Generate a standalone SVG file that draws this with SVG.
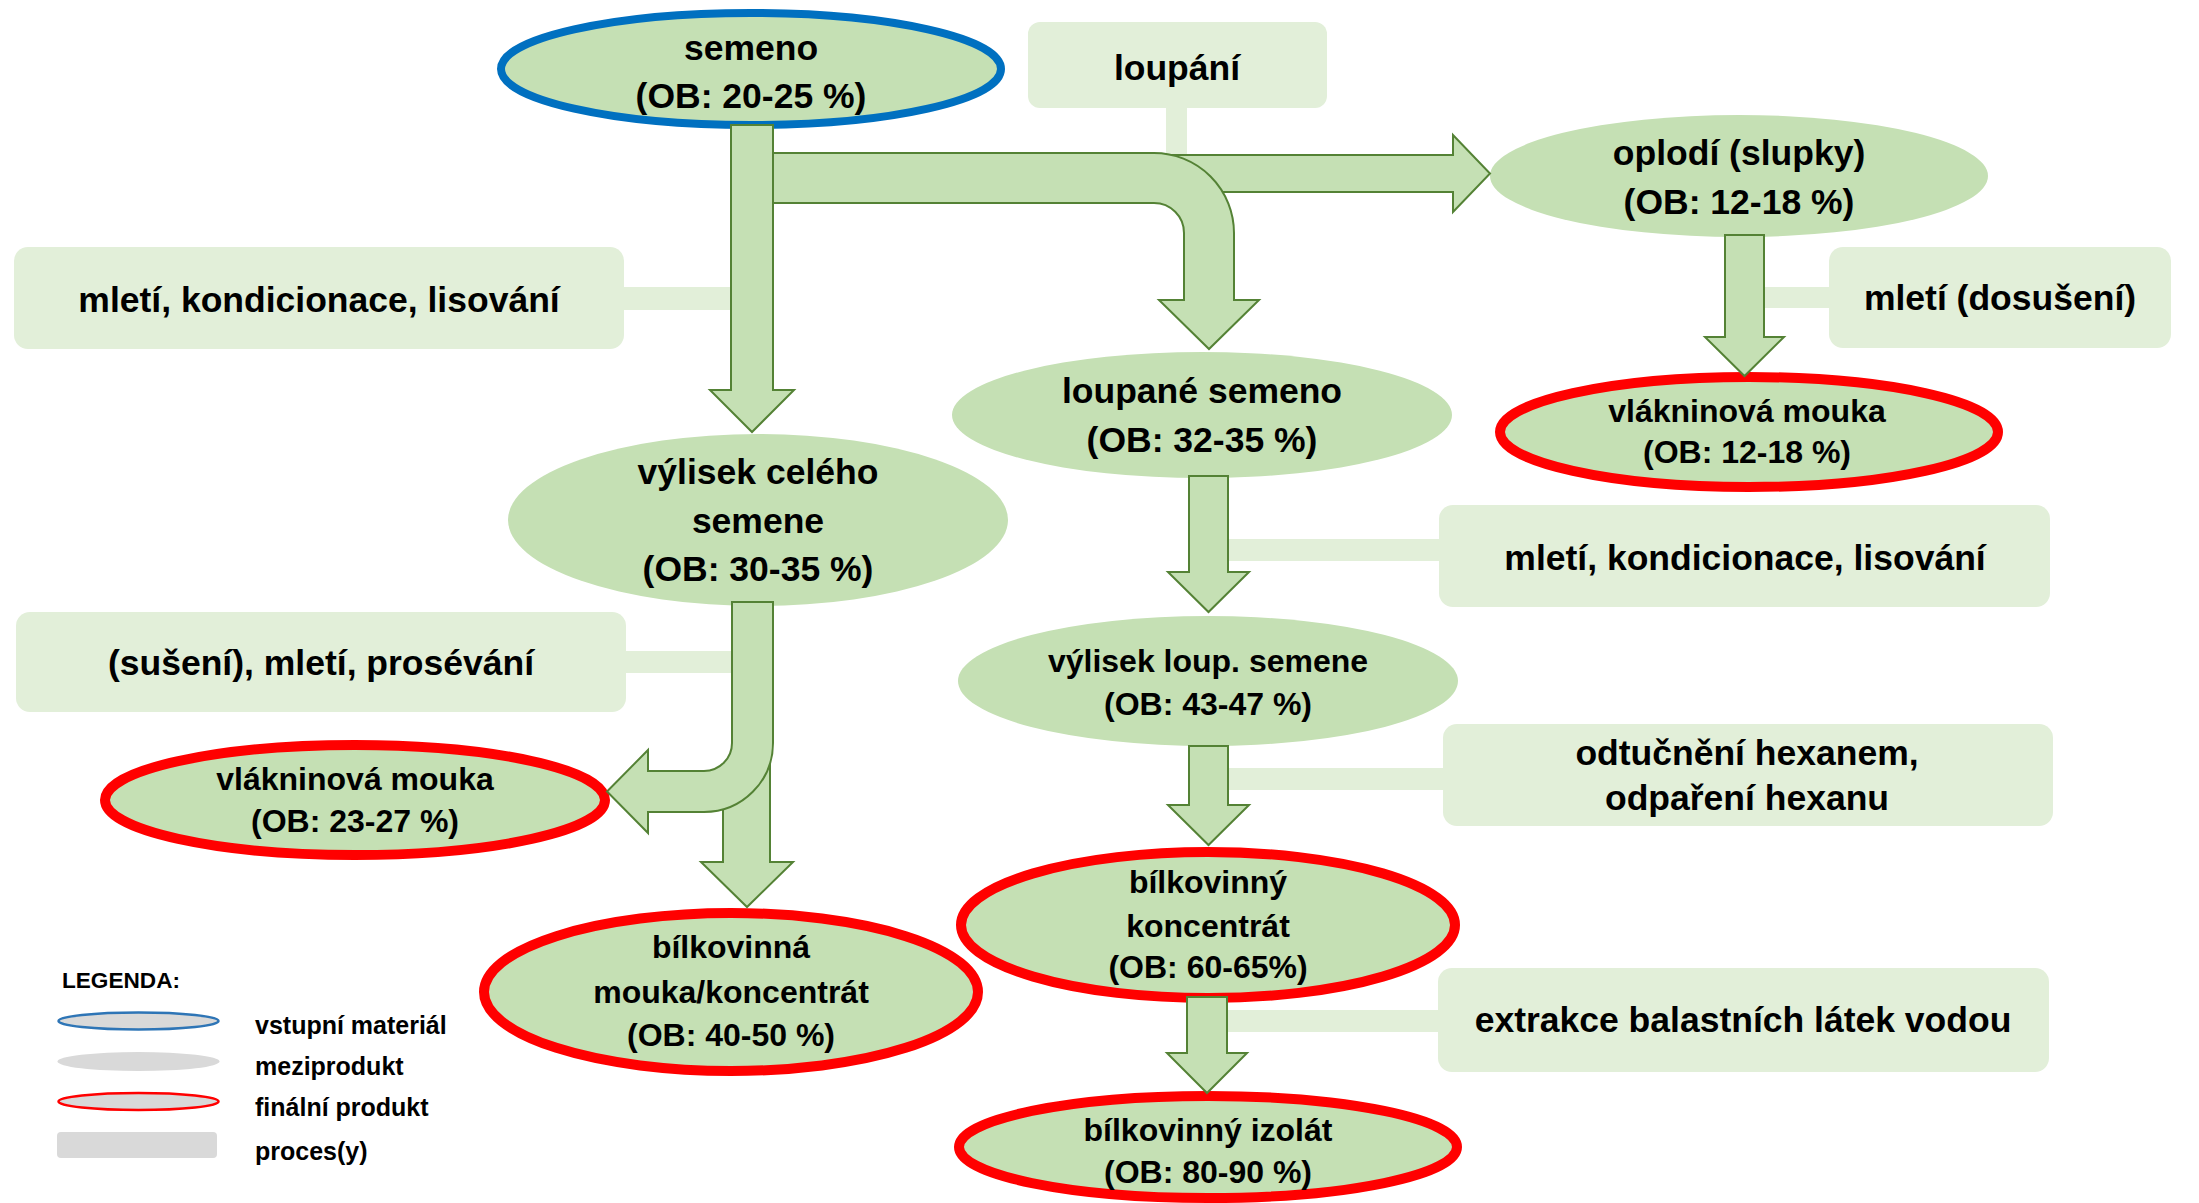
<svg xmlns="http://www.w3.org/2000/svg" width="2199" height="1203" viewBox="0 0 2199 1203">
<style>
.node ellipse { fill:#C5E0B4; }
.in { stroke:#0070C0; stroke-width:8; }
.fin { stroke:#FF0000; stroke-width:10; }
.proc rect, .bar { fill:#E2EFD9; }
.arrow { fill:#C5E0B4; stroke:#548235; stroke-width:2; stroke-linejoin:miter; }
text { font-family:"Liberation Sans", Arial, sans-serif; font-weight:bold; fill:#000; text-anchor:middle; }
.t35 { font-size:35.5px; }
.t32 { font-size:32px; }
.leg { font-size:25px; text-anchor:start; }
</style>
<rect width="2199" height="1203" fill="#FFFFFF"/>

<g id="process-bars">
  <rect class="bar" x="1166" y="106" width="21" height="54"/>
  <rect class="bar" x="622" y="287" width="112" height="23"/>
  <rect class="bar" x="624" y="651" width="110" height="22"/>
  <rect class="bar" x="1224" y="539" width="217" height="22"/>
  <rect class="bar" x="1224" y="768" width="221" height="22"/>
  <rect class="bar" x="1223" y="1010" width="217" height="22"/>
  <rect class="bar" x="1760" y="287" width="71" height="21"/>
</g>

<g id="p-loupani" class="proc">
  <rect x="1028" y="22" width="299" height="86" rx="12"/>
  <text class="t35" x="1177" y="80">loupání</text>
</g>
<g id="p-mleti-left" class="proc">
  <rect x="14" y="247" width="610" height="102" rx="14"/>
  <text class="t35" x="319" y="312">mletí, kondicionace, lisování</text>
</g>
<g id="p-suseni" class="proc">
  <rect x="16" y="612" width="610" height="100" rx="14"/>
  <text class="t35" x="321" y="675">(sušení), mletí, prosévání</text>
</g>
<g id="p-dosuseni" class="proc">
  <rect x="1829" y="247" width="342" height="101" rx="14"/>
  <text class="t35" x="2000" y="310">mletí (dosušení)</text>
</g>
<g id="p-mleti-right" class="proc">
  <rect x="1439" y="505" width="611" height="102" rx="14"/>
  <text class="t35" x="1745" y="570">mletí, kondicionace, lisování</text>
</g>
<g id="p-odtucneni" class="proc">
  <rect x="1443" y="724" width="610" height="102" rx="14"/>
  <text class="t35" x="1747" y="765">odtučnění hexanem,</text>
  <text class="t35" x="1747" y="810">odpaření hexanu</text>
</g>
<g id="p-extrakce" class="proc">
  <rect x="1438" y="968" width="611" height="104" rx="14"/>
  <text class="t35" x="1743" y="1032">extrakce balastních látek vodou</text>
</g>

<g id="n-semeno" class="node">
  <ellipse class="in" cx="751" cy="69" rx="250" ry="56"/>
  <text class="t35" x="751" y="60">semeno</text>
  <text class="t35" x="751" y="108">(OB: 20-25 %)</text>
</g>
<g id="n-oplodi" class="node">
  <ellipse cx="1739" cy="176" rx="249" ry="61"/>
  <text class="t35" x="1739" y="165">oplodí (slupky)</text>
  <text class="t35" x="1739" y="214">(OB: 12-18 %)</text>
</g>
<g id="n-vlaknina-right" class="node">
  <ellipse class="fin" cx="1749" cy="432" rx="249" ry="55"/>
  <text class="t32" x="1747" y="422">vlákninová mouka</text>
  <text class="t32" x="1747" y="463">(OB: 12-18 %)</text>
</g>
<g id="n-loupane" class="node">
  <ellipse cx="1202" cy="415" rx="250" ry="63"/>
  <text class="t35" x="1202" y="403">loupané semeno</text>
  <text class="t35" x="1202" y="452">(OB: 32-35 %)</text>
</g>
<g id="n-vylisek-cele" class="node">
  <ellipse cx="758" cy="520" rx="250" ry="86"/>
  <text class="t35" x="758" y="484">výlisek celého</text>
  <text class="t35" x="758" y="533">semene</text>
  <text class="t35" x="758" y="581">(OB: 30-35 %)</text>
</g>
<g id="n-vylisek-loup" class="node">
  <ellipse cx="1208" cy="681" rx="250" ry="65"/>
  <text class="t32" x="1208" y="672">výlisek loup. semene</text>
  <text class="t32" x="1208" y="715">(OB: 43-47 %)</text>
</g>
<g id="n-vlaknina-left" class="node">
  <ellipse class="fin" cx="355" cy="800" rx="250" ry="55"/>
  <text class="t32" x="355" y="790">vlákninová mouka</text>
  <text class="t32" x="355" y="832">(OB: 23-27 %)</text>
</g>
<g id="n-bilkovinna-mouka" class="node">
  <ellipse class="fin" cx="731" cy="992" rx="247" ry="79"/>
  <text class="t32" x="731" y="958">bílkovinná</text>
  <text class="t32" x="731" y="1003">mouka/koncentrát</text>
  <text class="t32" x="731" y="1046">(OB: 40-50 %)</text>
</g>
<g id="n-koncentrat" class="node">
  <ellipse class="fin" cx="1208" cy="925" rx="247" ry="73"/>
  <text class="t32" x="1208" y="893">bílkovinný</text>
  <text class="t32" x="1208" y="937">koncentrát</text>
  <text class="t32" x="1208" y="978">(OB: 60-65%)</text>
</g>
<g id="n-izolat" class="node">
  <ellipse class="fin" cx="1208" cy="1147" rx="249" ry="51"/>
  <text class="t32" x="1208" y="1141">bílkovinný izolát</text>
  <text class="t32" x="1208" y="1183">(OB: 80-90 %)</text>
</g>

<g id="connectors">
  <path class="arrow" d="M1170,155 H1453 V135 L1490,173.5 L1453,212 V192 H1170 Z"/>
  <path class="arrow" d="M760,153 H1154 A80,80 0 0 1 1234,233 V300 H1259 L1209,349 L1159,300 H1184 V233 A30,30 0 0 0 1154,203 H760 Z"/>
  <path class="arrow" d="M731,125 H773 V390 H794 L752,432 L710,390 H731 Z"/>
  <path class="arrow" d="M723,790 L770,740 V862 H793 L747,907 L701,862 H723 Z"/>
  <path class="arrow" d="M732,602 H773 V743 A69,69 0 0 1 704,812 H648 V833 L607,791.5 L648,750 V771 H704 A28,28 0 0 0 732,743 Z"/>
  <path class="arrow" d="M1189,476 H1228 V572 H1249 L1208.5,612 L1168,572 H1189 Z"/>
  <path class="arrow" d="M1189,746 H1228 V805 H1249 L1208.5,845 L1168,805 H1189 Z"/>
  <path class="arrow" d="M1187,997 H1227 V1053 H1247 L1207,1093 L1167,1053 H1187 Z"/>
  <path class="arrow" d="M1725,235 H1764 V337 H1784 L1744.5,376 L1705,337 H1725 Z"/>
</g>

<g id="legend">
  <text x="62" y="988" style="font-size:22.6px;text-anchor:start">LEGENDA:</text>
  <ellipse cx="138.5" cy="1021" rx="80" ry="8.5" fill="#D9D9D9" stroke="#2E75B6" stroke-width="2.5"/>
  <ellipse cx="138.5" cy="1061.5" rx="81" ry="9.5" fill="#D9D9D9"/>
  <ellipse cx="138.5" cy="1101.5" rx="80" ry="8.5" fill="#D9D9D9" stroke="#FF0000" stroke-width="2.5"/>
  <rect x="57" y="1132" width="160" height="26" rx="4" fill="#D9D9D9"/>
  <text class="leg" x="255" y="1034">vstupní materiál</text>
  <text class="leg" x="255" y="1075">meziprodukt</text>
  <text class="leg" x="255" y="1116">finální produkt</text>
  <text class="leg" x="255" y="1160">proces(y)</text>
</g>
</svg>
